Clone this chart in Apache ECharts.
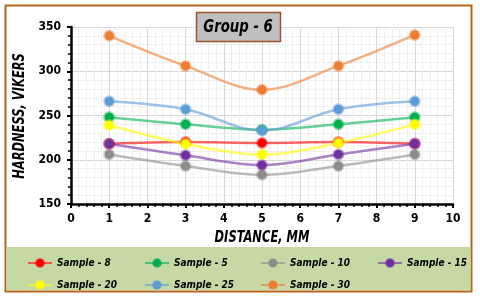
<!DOCTYPE html>
<html><head><meta charset="utf-8">
<script src="https://cdn.jsdelivr.net/npm/echarts@6/dist/echarts.min.js"></script>
<style>html,body{margin:0;padding:0;background:#fff}#c{width:480px;height:296px}</style>
</head><body><div id="c"></div>
<script>
const distances = [1, 3, 5, 7, 9];
const seriesNames = ['Sample - 8','Sample - 5','Sample - 10','Sample - 15','Sample - 20','Sample - 25','Sample - 30'];
const sample8  = [218, 220, 219, 220, 218];
const sample5  = [248, 240, 234, 240, 248];
const sample10 = [206, 193, 183, 193, 206];
const sample15 = [218, 205, 194, 206, 218];
const sample20 = [239, 218, 206, 219, 240];
const sample25 = [266, 257, 233, 257, 266];
const sample30 = [340, 306, 279, 306, 341];
const colors = ['#ff0000','#00b050','#8c8c8c','#7030a0','#ffff00','#5b9bd5','#ed7d31'];
const allData = [sample8, sample5, sample10, sample15, sample20, sample25, sample30];
const FONT = '"DejaVu Sans Condensed","Liberation Sans Narrow",sans-serif';

function hexA(h, a){const r=parseInt(h.slice(1,3),16),g=parseInt(h.slice(3,5),16),b=parseInt(h.slice(5,7),16);return `rgba(${r},${g},${b},${a})`;}

const series = seriesNames.map((n,i)=>({
  name:n, type:'line', smooth:0.35,
  data: distances.map((d,j)=>[d, allData[i][j]]),
  symbol:'circle', symbolSize:9,
  lineStyle:{color:hexA(colors[i],0.6), width:2.5},
  itemStyle:{color:colors[i], borderColor:hexA(colors[i],0.45), borderWidth:3},
  emphasis:{disabled:true}
}));

const chart = echarts.init(document.getElementById('c'));
const legendPos = [[22,253],[139,253],[255,253],[372,253],[22,275],[139,275],[255,275]];
const legends = seriesNames.map((n,i)=>({
  data:[n], left:legendPos[i][0], top:legendPos[i][1],
  orient:'horizontal', itemWidth:24, itemHeight:10, itemGap:6,
  textStyle:{fontFamily:FONT, fontWeight:'bold', fontStyle:'italic', fontSize:10, color:'#000'},
  selectedMode:false
}));
chart.setOption({
  animation:false,
  graphic:[
    {type:'rect', shape:{x:5.5,y:5.5,width:466,height:286}, style:{fill:'none', stroke:'#b5651d', lineWidth:2}, z:-10},
    {type:'rect', shape:{x:6.5,y:247,width:464,height:43}, style:{fill:'#c6d9a5'}, z:-9},
    {type:'rect', shape:{x:196.5,y:12.5,width:84,height:29}, style:{fill:'#bfbfbf', stroke:'#a0522d', lineWidth:1.5}, z:20},
    {type:'text', x:238, y:27, scaleX:0.82, style:{text:'Group - 6', fontFamily:FONT, fontWeight:'bold', fontStyle:'italic', fontSize:18, fill:'#000', align:'center', verticalAlign:'middle'}, z:21},
    {type:'text', x:20, y:116, rotation:Math.PI/2, scaleX:0.85, style:{text:'HARDNESS, VIKERS', fontFamily:FONT, fontWeight:'bold', fontStyle:'italic', fontSize:15, fill:'#000', align:'center', verticalAlign:'middle'}, z:21},
    {type:'text', x:262, y:238, scaleX:0.85, style:{text:'DISTANCE, MM', fontFamily:FONT, fontWeight:'bold', fontStyle:'italic', fontSize:15, fill:'#000', align:'center', verticalAlign:'middle'}, z:21}
  ],
  grid:{left:71, right:27, top:27, bottom:92},
  xAxis:{type:'value', min:0, max:10, interval:1,
    axisLine:{lineStyle:{color:'#000', width:2.5}},
    axisTick:{show:true, lineStyle:{color:'#000', width:2}, length:4},
    minorTick:{show:true, splitNumber:5, length:3, lineStyle:{color:'#000', width:1.5}},
    axisLabel:{color:'#000', fontFamily:FONT, fontWeight:'bold', fontSize:12, margin:9},
    splitLine:{show:true, lineStyle:{color:'#d9d9d9', width:1}},
    minorSplitLine:{show:true, lineStyle:{color:'#efefef', width:1}}
  },
  yAxis:{type:'value', min:150, max:350, interval:50,
    axisLine:{show:true, lineStyle:{color:'#000', width:2.5}},
    axisTick:{show:true, lineStyle:{color:'#000', width:2}, length:4},
    minorTick:{show:true, splitNumber:5, length:3, lineStyle:{color:'#000', width:1.5}},
    axisLabel:{color:'#000', fontFamily:FONT, fontWeight:'bold', fontSize:12, margin:10},
    splitLine:{show:true, lineStyle:{color:'#d9d9d9', width:1}},
    minorSplitLine:{show:true, lineStyle:{color:'#efefef', width:1}}
  },
  legend:legends,
  series
});
</script></body></html>
